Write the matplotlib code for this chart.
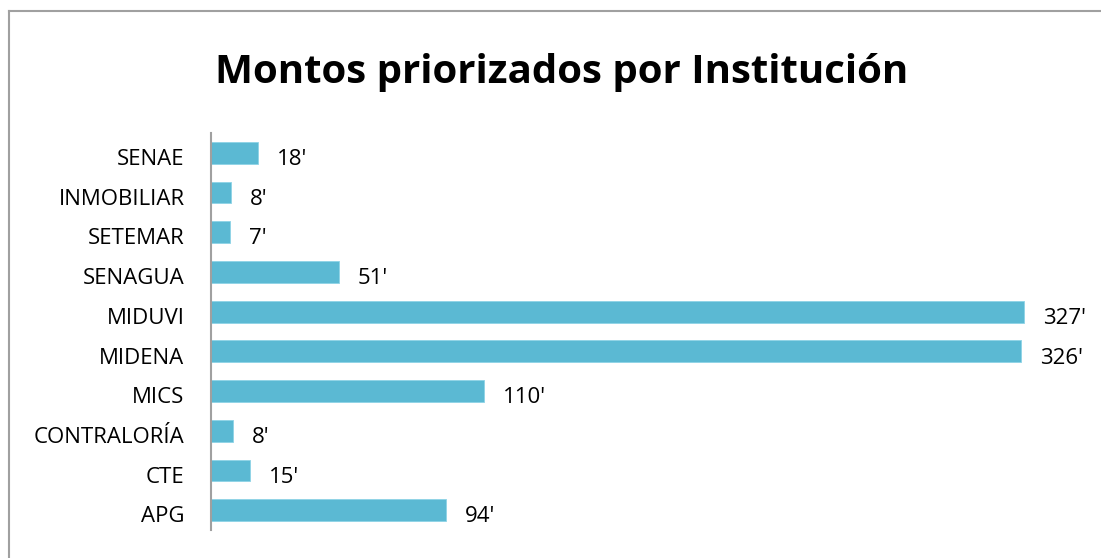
import matplotlib.pyplot as plt
from matplotlib.lines import Line2D

plt.rcParams["font.family"] = ["Open Sans", "DejaVu Sans"]

# categories listed top to bottom
institutions = ["SENAE", "INMOBILIAR", "SETEMAR", "SENAGUA", "MIDUVI",
                "MIDENA", "MICS", "CONTRALORÍA", "CTE", "APG"]
amounts = [18.9, 8.0, 7.6, 51.5, 327.2, 326.0, 110.0, 8.9, 15.7, 94.6]
value_labels = ["18'", "8'", "7'", "51'", "327'", "326'", "110'", "8'", "15'", "94'"]

BAR_COLOR = "#5BB9D3"

fig = plt.figure(figsize=(11.01, 5.58), dpi=100)
ax = fig.add_axes([211 / 1101, 28 / 558, 849 / 1101, 397 / 558])

y = list(range(len(institutions)))[::-1]
ax.barh(y, amounts, height=0.55, color=BAR_COLOR, edgecolor="#8ED3E6", linewidth=0.6)

ax.set_xlim(0, 849 / 2.485)
ax.set_ylim(-0.5, len(institutions) - 0.5)
ax.set_yticks([])
ax.set_xticks([])

for side in ["top", "right", "bottom"]:
    ax.spines[side].set_visible(False)
ax.spines["left"].set_color("#A0A0A0")
ax.spines["left"].set_linewidth(1.5)

# category names, drawn beside the axis, sitting a touch low like the original
for yi, name in zip(y, institutions):
    ax.annotate(name, (0, yi), xytext=(-19, -3), textcoords="offset points",
                ha="right", va="center_baseline", fontsize=16, annotation_clip=False)

for yi, val, lab in zip(y, amounts, value_labels):
    ax.annotate(lab, (val, yi), xytext=(13.5, -3), textcoords="offset points",
                ha="left", va="center_baseline", fontsize=16)

fig.text(0.51, 1 - 73 / 558, "Montos priorizados por Institución",
         ha="center", va="center", fontsize=29, fontweight="bold")

# outer frame (only top and left edges visible in the crop)
fig.add_artist(Line2D([9 / 1101, 1], [1 - 11 / 558, 1 - 11 / 558],
                      transform=fig.transFigure, color="#A0A0A0", linewidth=1.5))
fig.add_artist(Line2D([9 / 1101, 9 / 1101], [0, 1 - 11 / 558],
                      transform=fig.transFigure, color="#A0A0A0", linewidth=1.5))

fig.savefig("out.png", dpi=100)
